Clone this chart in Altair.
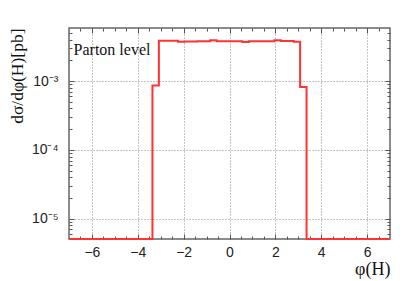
import altair as alt
import pandas as pd
import numpy as np

# Histogram: 50 bins from -7 to 7
bin_edges = np.round(np.linspace(-7, 7, 51), 4).tolist()
bin_values = (
    [0.0] * 13
    + [8.6e-4]
    + [3.85e-3, 3.85e-3, 3.85e-3, 3.72e-3, 3.75e-3, 3.75e-3, 3.78e-3, 3.78e-3,
       3.92e-3, 3.80e-3, 3.80e-3, 3.80e-3, 3.80e-3, 3.68e-3, 3.80e-3, 3.80e-3,
       3.80e-3, 3.80e-3, 3.90e-3, 3.82e-3, 3.82e-3, 3.72e-3]
    + [8.2e-4]
    + [0.0] * 13
)

x_major = [-6, -4, -2, 0, 2, 4, 6]
x_minor = [v / 2 for v in range(-13, 14)]
y_major = [1e-5, 1e-4, 1e-3]
y_minor = ([m * 1e-6 for m in range(6, 10)] + [m * 1e-5 for m in range(2, 10)]
           + [m * 1e-4 for m in range(2, 10)] + [m * 1e-3 for m in range(2, 6)])

X_DOMAIN = [-7, 7]
Y_DOMAIN = [5.07e-6, 5.9e-3]

label_x = [-6.8]
label_y = [2.86e-3]
label_text = ["Parton level"]

df = pd.DataFrame({"x": bin_edges, "y": bin_values + [bin_values[-1]]})
lab = pd.DataFrame({"x": label_x, "y": label_y, "t": label_text})

xs = alt.Scale(domain=X_DOMAIN, nice=False, zero=False)
ys = alt.Scale(type="log", domain=Y_DOMAIN, nice=False)

TICK = "#555555"


def tick_axis(orient, values, size):
    return alt.Axis(orient=orient, values=values, labels=False, ticks=True,
                    tickSize=size, offset=-size, domain=False, grid=False,
                    title=None, tickColor=TICK, tickWidth=1)


x_main = alt.Axis(orient="bottom", values=x_major, labels=True, ticks=False,
                  domain=False, grid=True, gridDash=[1, 2], gridColor="#8a8a8a",
                  labelFont="Liberation Sans", labelFontSize=14, labelColor="#222222",
                  labelPadding=6, title="φ(H)", titleFont="Liberation Serif",
                  titleFontSize=18, titleFontWeight="normal", titleColor="#111111",
                  titleX=321, titleY=30, titleAlign="right", titleBaseline="middle",
                  titleAngle=0)
y_main = alt.Axis(orient="left", values=y_major, labels=True, ticks=False,
                  domain=False, grid=True, gridDash=[1, 2], gridColor="#8a8a8a",
                  labelFont="Liberation Sans", labelFontSize=14, labelColor="#222222",
                  labelPadding=11,
                  labelExpr="datum.value < 5e-5 ? '10⁻⁵' : (datum.value < 5e-4 ? '10⁻⁴' : '10⁻³')",
                  title="dσ/dφ(H)[pb]", titleFont="Liberation Serif", titleFontSize=17.5,
                  titleFontWeight="normal", titleColor="#111111",
                  titleX=-52, titleY=0, titleAngle=-90, titleAlign="right",
                  titleBaseline="middle")

axis_pairs = [
    (x_main, y_main),
    (tick_axis("bottom", x_major, 5), tick_axis("left", y_major, 5)),
    (tick_axis("bottom", x_minor, 3), tick_axis("left", y_minor, 3)),
    (tick_axis("top", x_major, 5), tick_axis("right", y_major, 5)),
    (tick_axis("top", x_minor, 3), tick_axis("right", y_minor, 3)),
]

base = alt.Chart(df).transform_calculate(yv=f"max(datum.y, {Y_DOMAIN[0]})")

layers = []
for i, (ax, ay) in enumerate(axis_pairs):
    layers.append(
        base.mark_line(interpolate="step-after", color="#ff3333", strokeWidth=2,
                       strokeOpacity=1 if i == 0 else 0)
        .encode(x=alt.X("x:Q", scale=xs, axis=ax),
                y=alt.Y("yv:Q", scale=ys, axis=ay))
    )

text = alt.Chart(lab).mark_text(align="left", baseline="middle",
                                font="Liberation Serif", fontSize=16,
                                color="#111111").encode(
    x=alt.X("x:Q", scale=xs, axis=None),
    y=alt.Y("y:Q", scale=ys, axis=None),
    text="t:N",
)
layers.append(text)

chart = (
    alt.layer(*layers)
    .resolve_axis(x="independent", y="independent")
    .properties(width=321, height=211,
                autosize=alt.AutoSizeParams(type="none"),
                padding={"left": 61, "top": 20, "right": 13, "bottom": 44},
                background="white")
    .configure_view(stroke="#666666", strokeWidth=1.5)
)

chart.save("out.html", embed_options={"renderer": "svg", "actions": False})
